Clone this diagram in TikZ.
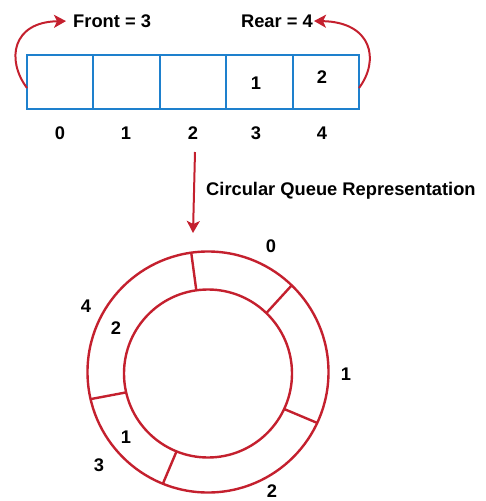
\documentclass[tikz,border=0pt]{standalone}
\usepackage{fontspec}
\setmainfont{Liberation Sans}
\usetikzlibrary{arrows.meta}
\definecolor{qblue}{RGB}{30,128,205}
\definecolor{qred}{RGB}{196,32,46}
\begin{document}
\begin{tikzpicture}[x=1pt,y=-1pt,
  cell/.style={draw=qblue,line width=2pt,minimum width=66.4pt,minimum height=54pt,inner sep=0pt,outer sep=0pt},
  lbl/.style={font=\fontsize{18.3}{20}\selectfont\bfseries,inner sep=1pt},
  redarr/.style={draw=qred,line width=2pt,-{Stealth[length=12pt,width=13pt,inset=3pt]}},
  ring/.style={circle,draw=qred,line width=2.4pt,inner sep=0pt,outer sep=0pt},
  div/.style={draw=qred,line width=2.4pt}]
\useasboundingbox (0,0) rectangle (486,501);
% array
\node[cell] (c0) at (60.2,82) {};
\node[cell,anchor=west] (c1) at (c0.east) {};
\node[cell,anchor=west] (c2) at (c1.east) {};
\node[cell,anchor=west] (c3) at (c2.east) {};
\node[cell,anchor=west] (c4) at (c3.east) {};
\node[lbl] (v3) at (256,83) {1};
\node[lbl] (v4) at (322,77) {2};
\node[lbl] (i0) at (60,133) {0};
\node[lbl] (i1) at (126,133) {1};
\node[lbl] (i2) at (193,133) {2};
\node[lbl] (i3) at (256,133) {3};
\node[lbl] (i4) at (322,133) {4};
\node[lbl,anchor=west] (front) at (72,21) {Front = 3};
\node[lbl,anchor=east] (rear) at (314,21) {Rear = 4};
\draw[redarr,shorten >=6pt] (c0.west) ++(0,6) .. controls (6,60) and (12,22) .. (front.west);
\draw[redarr] (c4.east) ++(0,6) .. controls (380,60) and (372,22) .. (rear.east);
% down arrow
\coordinate (dstart) at (195,152);
\coordinate (dend) at (193,233);
\draw[redarr] (dstart) -- (dend);
\node[lbl,anchor=west] (title) at (205,191) {Circular Queue Representation};
% circular queue
\node[ring,minimum size=241pt] (outer) at (208,372) {};
\node[ring,minimum size=168pt] (inner) at (208,373.5) {};
\foreach \a in {98,46,-25,-112,193.5}{\draw[div] (inner.\a) -- (outer.\a);}
\node[lbl] (o0) at (271,246) {0};
\node[lbl] (o1) at (346,374) {1};
\node[lbl] (o2) at (272,491) {2};
\node[lbl] (o3) at (99,465) {3};
\node[lbl] (o4) at (86,306) {4};
\node[lbl] (q2) at (116,328) {2};
\node[lbl] (q1) at (126,437) {1};
\end{tikzpicture}
\end{document}
